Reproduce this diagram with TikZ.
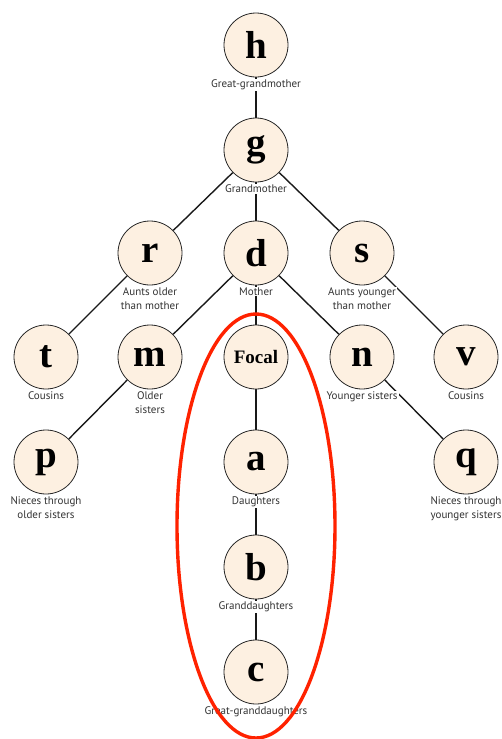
\documentclass[tikz,border=0pt]{standalone}
\usepackage{fontspec}
\setmainfont{Liberation Serif}
\newfontfamily\lblfont{PT Sans}
\usetikzlibrary{positioning,backgrounds}
\definecolor{nodebg}{HTML}{FDF0E1}
\definecolor{ring}{HTML}{FF2200}
\definecolor{lbltext}{HTML}{333333}

\begin{document}
\begin{tikzpicture}[x=1pt,y=-1pt,
  kin/.style={circle,draw=black!85,fill=nodebg,line width=0.8pt,minimum size=64pt,
              inner sep=0pt,font=\fontsize{39}{39}\selectfont\bfseries},
  lbl/.style={fill=white,inner sep=1pt,font=\lblfont\fontsize{11}{14}\selectfont,
              text=lbltext,align=center},
  link/.style={draw=black!90,line width=1.4pt}
]
\useasboundingbox (0,0) rectangle (502,739);
% generations
\node[kin] (h) at (256,45) {h};
\node[kin] (g) at (256,150) {g};
\node[kin] (r) at (150,253) {r};
\node[kin] (d) at (256,253) {d};
\node[kin] (s) at (362,253) {s};
\node[kin] (t) at (46,357) {t};
\node[kin] (m) at (150,357) {m};
\node[kin,font=\fontsize{19}{19}\selectfont\bfseries] (f) at (256,357) {Focal};
\node[kin] (n) at (362,357) {n};
\node[kin] (v) at (466,357) {v};
\node[kin] (p) at (46,462) {p};
\node[kin] (a) at (256,462) {a};
\node[kin] (q) at (466,462) {q};
\node[kin] (b) at (256,567) {b};
\node[kin] (c) at (256,672) {c};
% labels
\node[lbl,below=1pt of h] (hl) {Great-grandmother};
\node[lbl,below=1pt of g] (gl) {Grandmother};
\node[lbl,below=1pt of r] (rl) {Aunts older\\than mother};
\node[lbl,below=1pt of d] (dl) {Mother};
\node[lbl,below=1pt of s] (sl) {Aunts younger\\than mother};
\node[lbl,below=1pt of t] (tl) {Cousins};
\node[lbl,below=1pt of m] (ml) {Older\\sisters};
\node[lbl,below=1pt of n] (nl) {Younger sisters};
\node[lbl,below=1pt of v] (vl) {Cousins};
\node[lbl,below=1pt of p] (pl) {Nieces through\\older sisters};
\node[lbl,below=1pt of a] (al) {Daughters};
\node[lbl,below=1pt of q] (ql) {Nieces through\\younger sisters};
\node[lbl,below=1pt of b] (bl) {Granddaughters};
\node[lbl,below=1pt of c] (cl) {Great-granddaughters};
% lines
\begin{scope}[on background layer]
\draw[link] (h) -- (g);
\draw[link] (g) -- (r);
\draw[link] (g) -- (d);
\draw[link] (g) -- (s);
\draw[link] (r) -- (t);
\draw[link] (d) -- (m);
\draw[link] (d) -- (f);
\draw[link] (d) -- (n);
\draw[link] (s) -- (v);
\draw[link] (m) -- (p);
\draw[link] (n) -- (q);
\draw[link] (f) -- (a);
\draw[link] (a) -- (b);
\draw[link] (b) -- (c);
\end{scope}
% focal line
\draw[ring,line width=3.4pt] (256,526) ellipse [x radius=79pt,y radius=212pt];
\end{tikzpicture}
\end{document}
